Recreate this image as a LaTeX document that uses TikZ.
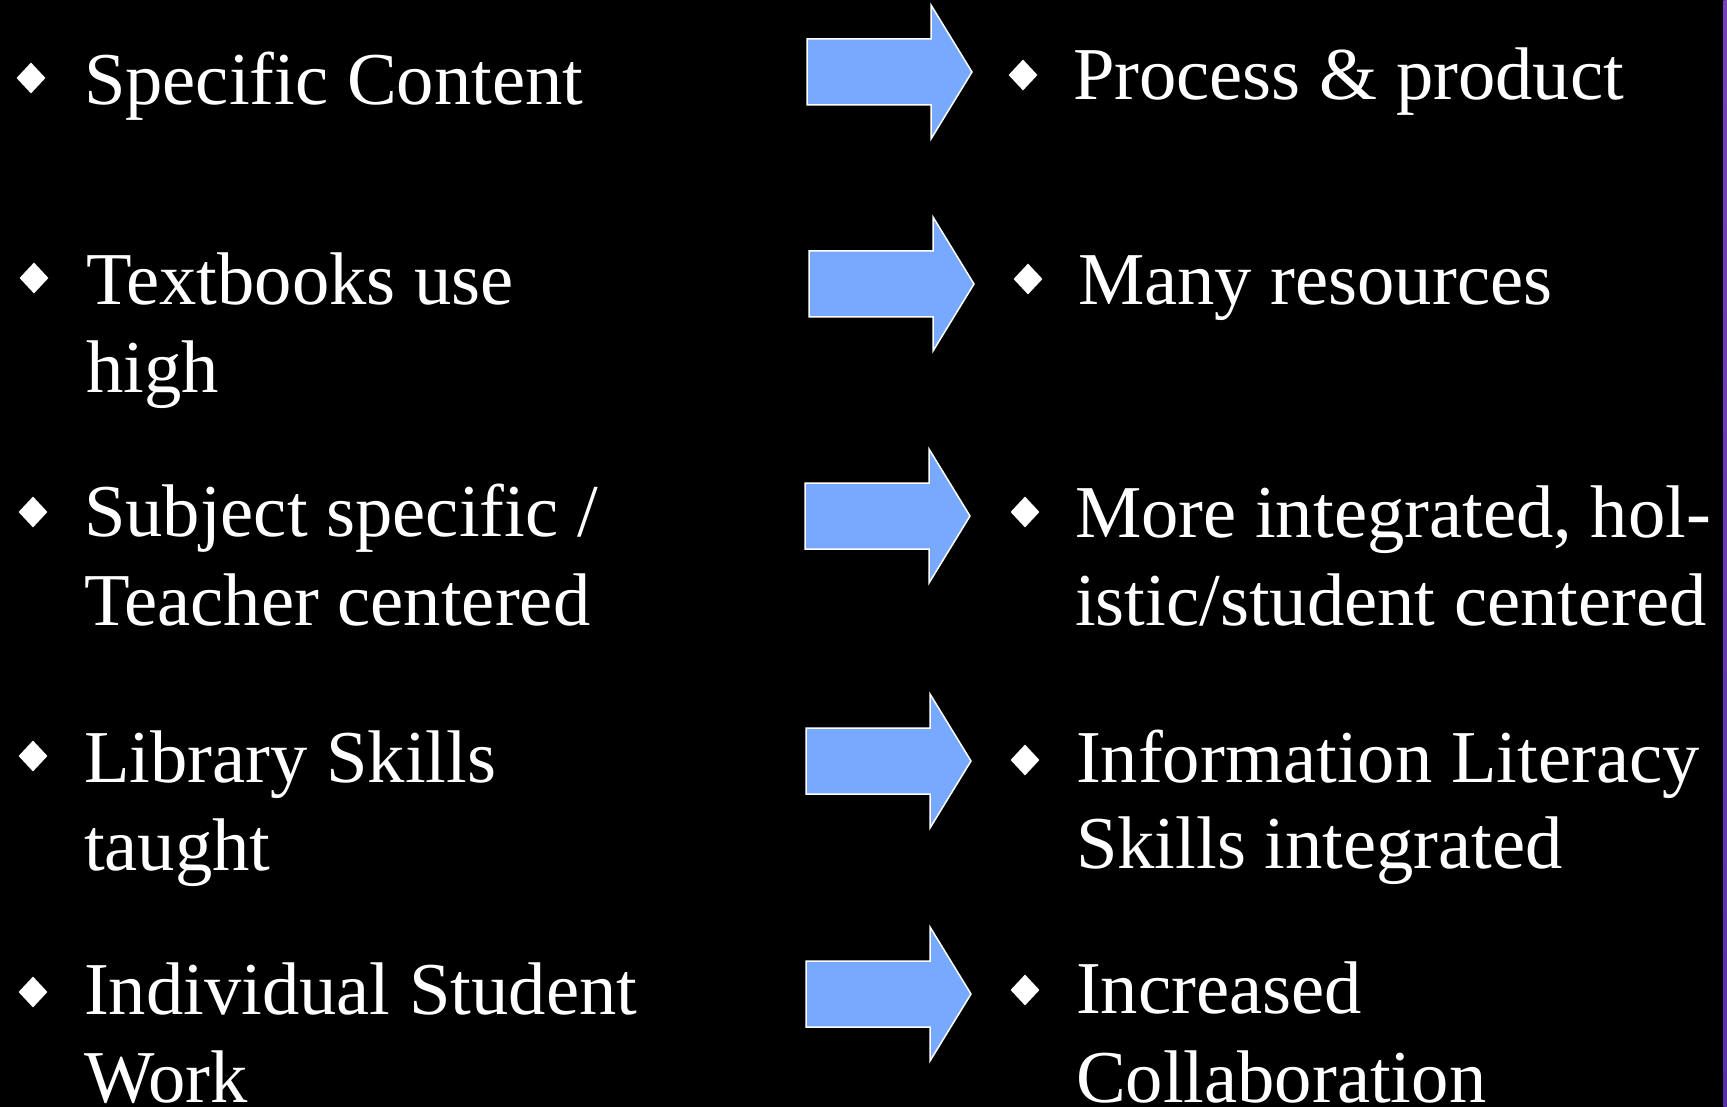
\documentclass[tikz,border=0pt]{standalone}
\usepackage{fontspec}
\setmainfont{Liberation Serif}
\usetikzlibrary{shapes.geometric}
\definecolor{arrowblue}{RGB}{119,170,255}
\definecolor{edgetop}{RGB}{120,64,184}
\definecolor{edgebot}{RGB}{88,48,168}
\begin{document}
\begin{tikzpicture}[x=1pt,y=-1pt,
  txt/.style={text=white, font=\fontsize{74.6}{87}\selectfont, inner sep=0pt, outer sep=0pt, anchor=base west},
  bullet/.style={shape=diamond, fill=white, draw=none, inner sep=0pt, minimum width=29pt, minimum height=31pt},
  blockarrow/.style={fill=arrowblue, draw=white, line width=1.5pt, line join=miter}]
\useasboundingbox (0,0) rectangle (1727,1107);
\fill[black] (0,0) rectangle (1727,1107);
\shade[top color=edgetop, bottom color=edgebot] (1723.5,0) rectangle (1727,1107);

% block arrows: left x / centre y
\foreach \L/\c in {807/72, 809/284, 805/516, 806/761, 806/994}{
  \draw[blockarrow] (\L,{\c-33}) -- ({\L+124},{\c-33}) -- ({\L+124},{\c-67})
    -- ({\L+165},\c) -- ({\L+124},{\c+67}) -- ({\L+124},{\c+33}) -- (\L,{\c+33}) -- cycle;
}

% left column
\node[bullet] (dl1) at (31,78) {};
\node[txt] (l1) at (84,105) {Specific Content};
\node[bullet] (dl2) at (34,278) {};
\node[txt] (l2) at (86,305) {Textbooks use};
\node[txt] (l2b) at (86,392) {high};
\node[bullet] (dl3) at (33,512) {};
\node[txt] (l3) at (84,536) {Subject specific /};
\node[txt] (l3b) at (84,625) {Teacher centered};
\node[bullet] (dl4) at (33,756) {};
\node[txt] (l4) at (84,782) {Library Skills};
\node[txt] (l4b) at (84,870) {taught};
\node[bullet] (dl5) at (33,992) {};
\node[txt] (l5) at (84,1014) {Individual Student};
\node[txt] (l5b) at (84,1102) {Work};

% right column
\node[bullet] (dr1) at (1023,75) {};
\node[txt] (r1) at (1073,100) {Process \& product};
\node[bullet] (dr2) at (1028,279) {};
\node[txt] (r2) at (1078,305) {Many resources};
\node[bullet] (dr3) at (1025,512) {};
\node[txt] (r3) at (1075,537) {More integrated, hol-};
\node[txt] (r3b) at (1075,625) {istic/student centered};
\node[bullet] (dr4) at (1025,760) {};
\node[txt] (r4) at (1076,782) {Information Literacy};
\node[txt] (r4b) at (1076,868) {Skills integrated};
\node[bullet] (dr5) at (1025,990) {};
\node[txt] (r5) at (1076,1013) {Increased};
\node[txt] (r5b) at (1076,1102) {Collaboration};
\end{tikzpicture}
\end{document}
